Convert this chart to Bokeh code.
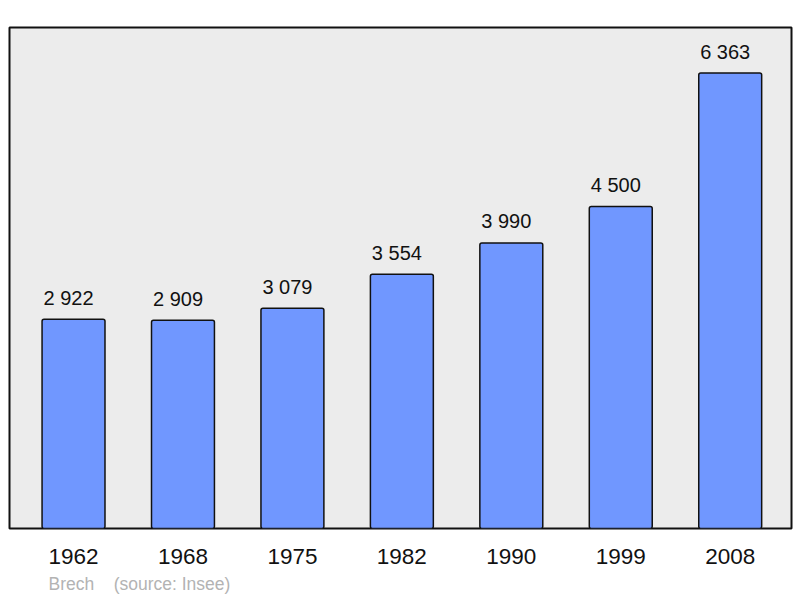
from bokeh.plotting import figure
from bokeh.models import ColumnDataSource, Range1d, FixedTicker, Title
from bokeh.embed import file_html
from bokeh.resources import INLINE
from bokeh.core.properties import value

years = ["1962", "1968", "1975", "1982", "1990", "1999", "2008"]
population = [2922, 2909, 3079, 3554, 3990, 4500, 6363]
commune = "Brech"
source_text = "(source: Insee)"

xs = list(range(len(years)))
labels = [f"{v:,}".replace(",", " ") for v in population]
src = ColumnDataSource(dict(x=xs, pop=population, label=labels))

FONT = "Liberation Sans"

p = figure(width=800, height=598, output_backend="svg", toolbar_location=None,
           x_range=Range1d(-0.585, 6.56), y_range=Range1d(0, 7000),
           min_border_left=9, min_border_right=9, min_border_top=27, min_border_bottom=70)

p.background_fill_color = "#ececec"
p.border_fill_color = "white"
p.outline_line_color = "#111111"
p.outline_line_width = 2
p.xgrid.visible = False
p.ygrid.visible = False
p.yaxis.visible = False

p.vbar(x="x", top="pop", bottom=0, width=0.575, source=src,
       fill_color="#7097ff", line_color="#111111", line_width=1.5,
       border_radius=2)

p.text(x="x", y="pop", text="label", source=src, text_align="center",
       text_baseline="alphabetic", x_offset=-5, y_offset=-21.5,
       text_font=value(FONT), text_font_size="20px", text_color="#111111")

ax = p.xaxis[0]
ax.ticker = FixedTicker(ticks=xs)
ax.major_label_overrides = {i: y for i, y in zip(xs, years)}
ax.axis_line_color = None
ax.major_tick_line_color = None
ax.minor_tick_line_color = None
ax.major_label_text_font = FONT
ax.major_label_text_font_size = "22.5px"
ax.major_label_text_color = "#111111"
ax.major_label_standoff = 14

t = Title(text=commune + "\u00a0\u00a0\u00a0\u00a0" + source_text, align="left",
          offset=39, text_font=FONT, text_font_size="17.5px",
          text_font_style="normal", text_color="#b3b3b3", standoff=10)
p.add_layout(t, "below")

open("out.html", "w").write(file_html(p, INLINE))
